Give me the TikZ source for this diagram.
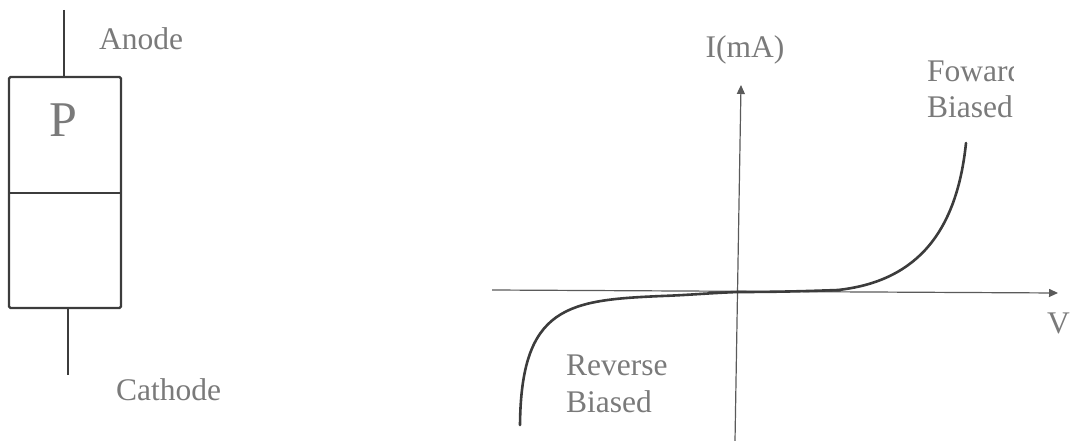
\documentclass[tikz,border=0pt]{standalone}
\usepackage{fontspec}
\setmainfont{Liberation Serif}
\usetikzlibrary{arrows.meta}
\definecolor{inkline}{HTML}{3C3C3C}
\definecolor{inkaxis}{HTML}{5A5A5A}
\definecolor{inktext}{HTML}{7A7A7A}
\begin{document}
\begin{tikzpicture}[x=1pt,y=-1pt,
  part/.style={draw=inkline,line width=2.2pt,rounded corners=1.5pt},
  lead/.style={draw=inkline,line width=2.2pt},
  axis/.style={draw=inkaxis,line width=1.2pt,-{Triangle[length=9pt,width=8pt]}},
  curve/.style={draw=inkline,line width=2.6pt,line cap=round},
  lbl/.style={text=inktext,inner sep=0pt,font=\fontsize{31.5}{37}\selectfont}]
\useasboundingbox (0,0) rectangle (1073,441);

% ---- diode as a P/N stack ----
\coordinate (boxtl) at (9,77);
\coordinate (boxbr) at (121,308);
\draw[part] (boxtl) rectangle (boxbr);
\coordinate (midl) at (9,193);
\coordinate (midr) at (121,193);
\draw[lead] (midl) -- (midr);
\coordinate (atop) at (64,10);
\coordinate (abot) at (64,77);
\draw[lead] (atop) -- (abot);
\coordinate (ctop) at (68,308);
\coordinate (cbot) at (68,375);
\draw[lead] (ctop) -- (cbot);
\node[text=inktext,inner sep=0pt,anchor=base,font=\fontsize{50}{60}\selectfont] (ptype) at (63,136) {P};
\node[lbl,anchor=base west] (anode) at (99,50) {Anode};
\node[lbl,anchor=base west] (cathode) at (116,400) {Cathode};

% ---- I-V characteristic ----
\coordinate (xstart) at (492,290);
\coordinate (xend) at (1058,293);
\coordinate (ystart) at (735,441);
\coordinate (yend) at (741,85);
\draw[axis] (xstart) -- (xend);
\draw[axis] (ystart) -- (yend);

\coordinate (origin) at (738,292);
\coordinate (knee) at (838,290);
\coordinate (fwdtop) at (966,143);
\coordinate (revknee) at (662,296);
\coordinate (revbot) at (520,425);
% forward branch: flat near zero, then a steep rise
\draw[curve] (origin) .. controls (780,292) and (810,291) .. (knee)
  .. controls (910,282) and (956,240) .. (fwdtop);
% reverse branch: small leakage, then breakdown
\draw[curve] (origin) .. controls (710,293) and (690,295) .. (revknee)
  .. controls (568,300) and (521,306) .. (revbot);

\node[lbl,anchor=base] (ilabel) at (745,58) {I(mA)};
\node[lbl,anchor=base west] (vlabel) at (1047,333) {V};
\node[lbl,anchor=base west] (rev1) at (566,375) {Reverse};
\node[lbl,anchor=base west] (rev2) at (566,412) {Biased};
\begin{scope}
  \clip (900,50) rectangle (1013,90);
  \node[lbl,anchor=base west] (fwd1) at (927,82) {Fowar\rlap{d}};
\end{scope}
\node[lbl,anchor=base west] (fwd2) at (927,118) {Biased};
\end{tikzpicture}
\end{document}
